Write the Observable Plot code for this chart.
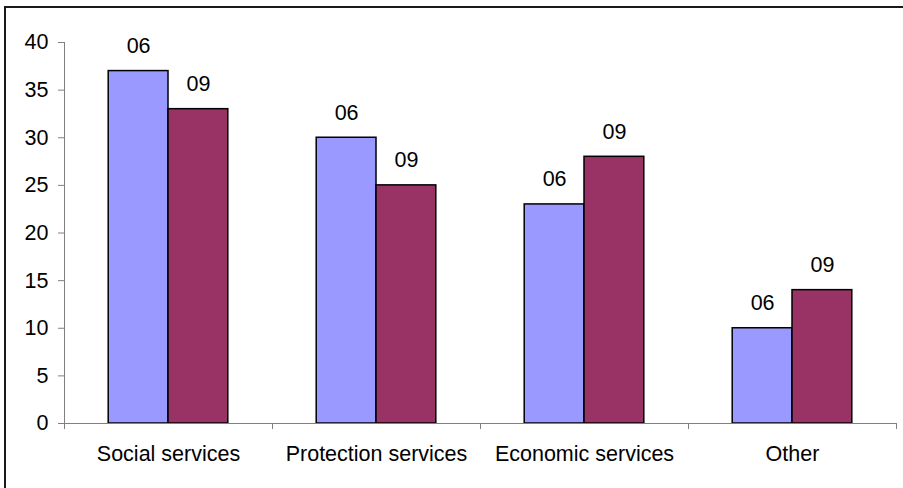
<!DOCTYPE html>
<html>
<head>
<meta charset="utf-8">
<script src="https://cdn.jsdelivr.net/npm/d3@7"></script>
<script src="https://cdn.jsdelivr.net/npm/@observablehq/plot@0.6"></script>
<style>
  html, body { margin: 0; padding: 0; background: #fff; }
  #wrap { position: relative; width: 903px; height: 488px; overflow: hidden; background: #fff; }
  #border { position: absolute; left: 4px; top: 6px; width: 1000px; height: 1000px; border: 2px solid #1a1a1a; box-sizing: border-box; }
  #chart { position: absolute; left: 0; top: 0; }
</style>
</head>
<body>
<div id="wrap"><div id="border"></div><div id="chart"></div></div>
<script>
// Spending share by category, two survey years
const categories = ["Social services", "Protection services", "Economic services", "Other"];
const seriesNames = ["06", "09"];
const values06 = [37, 30, 23, 10];
const values09 = [33, 25, 28, 14];
const yTicks = [0, 5, 10, 15, 20, 25, 30, 35, 40];
const colors = ["#9999ff", "#993366"];

// Each category occupies one unit on the x scale; the two bars share the middle part of it.
const groupWidth = 0.575;
const rows = [];
categories.forEach((cat, i) => {
  [values06, values09].forEach((vals, j) => {
    const start = i + 0.5 - groupWidth / 2 + j * groupWidth / 2;
    rows.push({category: cat, series: seriesNames[j], value: vals[i], x1: start, x2: start + groupWidth / 2, xm: start + groupWidth / 4});
  });
});
const catRows = categories.map((c, i) => ({category: c, xc: i + 0.5}));
const boundaries = d3.range(0, categories.length + 1);

const font = "'Liberation Sans', Arial, sans-serif";
const fs = 21.5;

const chart = Plot.plot({
  width: 903,
  height: 488,
  marginLeft: 64,
  marginRight: 7,
  marginTop: 42,
  marginBottom: 65,
  style: {fontFamily: font, fontSize: fs + "px", color: "#000", background: "transparent"},
  x: {type: "linear", domain: [0, categories.length], axis: null},
  y: {type: "linear", domain: [0, 40], axis: null},
  color: {domain: seriesNames, range: colors},
  marks: [
    Plot.rectY(rows, {x1: "x1", x2: "x2", y1: 0, y2: "value", fill: "series", stroke: "#000", strokeWidth: 1.5}),
    Plot.ruleX([0], {stroke: "#808080"}),
    Plot.ruleY([0], {stroke: "#808080"}),
    Plot.axisY({ticks: yTicks, tickSize: 6, tickPadding: 10, stroke: "#808080", fill: "#000", fontSize: fs, label: null}),
    // category separators below the baseline
    Plot.ruleX(boundaries, {x: d => d, y1: 0, y2: 0, insetBottom: -6, stroke: "#808080"}),
    Plot.text(rows, {x: "xm", y: "value", text: "series", dy: -25, fill: "#000", fontSize: fs}),
    Plot.text(catRows, {x: "xc", y: 0, text: "category", dy: 31, fill: "#000", fontSize: fs})
  ]
});
document.getElementById("chart").appendChild(chart);
</script>
</body>
</html>
